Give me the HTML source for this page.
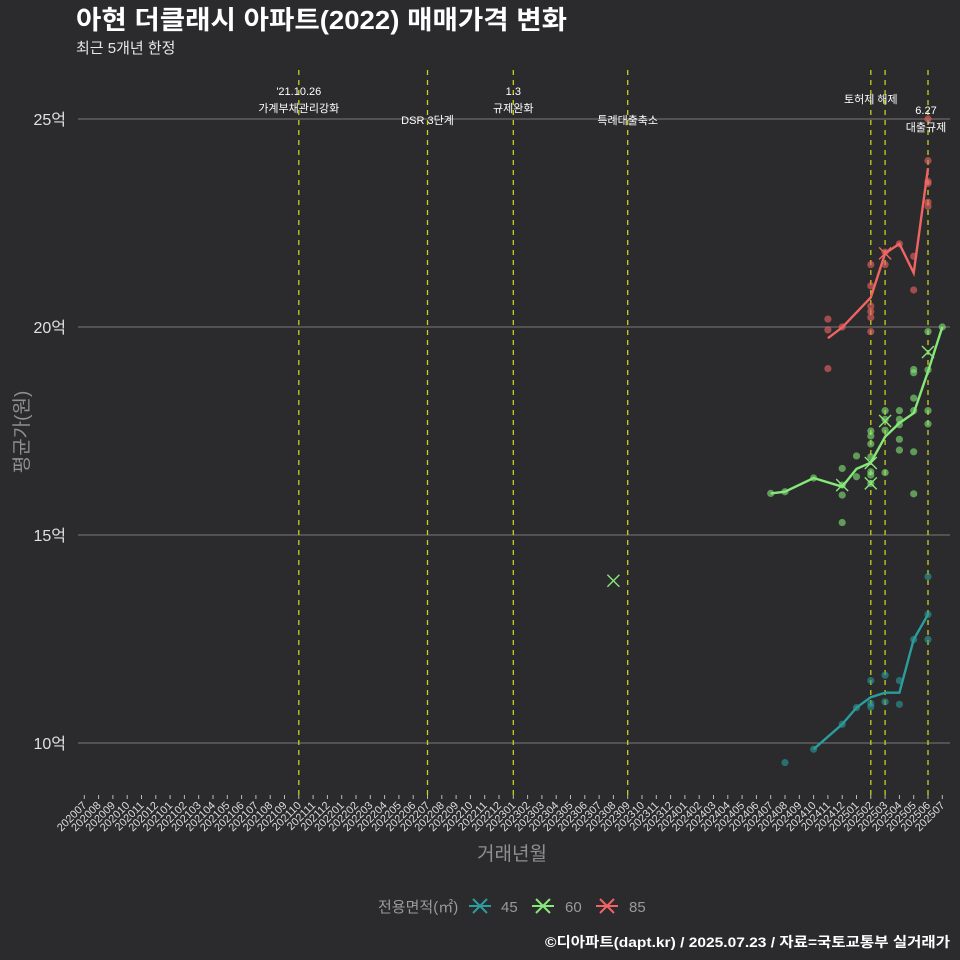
<!DOCTYPE html>
<html><head><meta charset="utf-8">
<style>
html,body{margin:0;padding:0;background:#2b2a2c;}
svg{display:block;font-family:"Liberation Sans","Noto Sans CJK KR",sans-serif;}
</style></head>
<body>
<svg id="chart" width="960" height="960" viewBox="0 0 960 960">
<rect width="960" height="960" fill="#2b2a2c"/>
<text x="76" y="29" fill="#ffffff" font-size="26" font-weight="bold" textLength="491" lengthAdjust="spacingAndGlyphs">아현 더클래시 아파트(2022) 매매가격 변화</text>
<text x="76" y="53" fill="#e8e8e8" font-size="15">최근 5개년 한정</text>
<g id="grid"></g><g id="vlines"></g><g id="series"></g><g id="xaxis"></g>
<text x="28" y="432" fill="#8f8f8f" font-size="19" transform="rotate(-90 28 432)" text-anchor="middle">평균가(원)</text>
<text x="512" y="860" fill="#8f8f8f" font-size="19" text-anchor="middle">거래년월</text>
<g>
<text x="378" y="912" fill="#9a9a9a" font-size="15">전용면적(㎡)</text>
<g><path d="M469 906h22M473 899l14 14M487 899l-14 14" stroke="#2a9d9d" stroke-width="2"/><text x="501" y="912" fill="#9a9a9a" font-size="15">45</text></g>
<g><path d="M532 906h22M536 899l14 14M550 899l-14 14" stroke="#86e87a" stroke-width="2"/><text x="565" y="912" fill="#9a9a9a" font-size="15">60</text></g>
<g><path d="M596 906h22M600 899l14 14M614 899l-14 14" stroke="#f06464" stroke-width="2"/><text x="629" y="912" fill="#9a9a9a" font-size="15">85</text></g>
</g>
<text x="545" y="947" fill="#ffffff" font-size="14" font-weight="bold" textLength="405" lengthAdjust="spacingAndGlyphs">©디아파트(dapt.kr) / 2025.07.23 / 자료=국토교통부 실거래가</text>
</svg>
<script>
const months = [];
for (let y=2020,m=7; !(y===2025&&m===8); m++){ if(m>12){m=1;y++;} if(y===2025&&m===8)break; months.push(String(y)+String(m).padStart(2,'0')); }
const yTicks = [10,15,20,25];
const yTickLabels = ['10억','15억','20억','25억'];
const policyMonths = ['202110','202207','202301','202309','202502','202503','202506'];
const policyLabels = [["'21.10.26","가계부채관리강화"],["","DSR 3단계"],["1.3","규제완화"],["","특례대출축소"],["","토허제 해제"],["",""],["6.27","대출규제"]];
const s45Months = ['202410','202412','202501','202502','202503','202504','202505','202506'];
const s45Line = [9.85,10.45,10.85,11.1,11.21,11.21,12.49,13.09];
const s60Months = ['202407','202408','202410','202412','202501','202502','202503','202504','202505','202506','202507'];
const s60Line = [16.0,16.04,16.37,16.16,16.59,16.74,17.36,17.69,17.93,18.93,20.0];
const s85Months = ['202411','202412','202502','202503','202504','202505','202506'];
const s85Line = [19.73,19.99,20.71,21.77,22.0,21.3,23.82];
const p45Months = ['202408','202410','202412','202501','202502','202502','202502','202503','202503','202504','202504','202505','202506','202506','202506'];
const p45Vals = [9.53,9.85,10.45,10.85,11.5,10.95,10.87,11.63,10.99,11.5,10.93,12.49,14.0,13.09,12.49];
const p60Months = ['202407','202408','202410','202412','202412','202412','202412','202501','202501','202502','202502','202502','202502','202502','202502','202502','202503','202503','202503','202503','202504','202504','202504','202504','202504','202505','202505','202505','202505','202505','202505','202506','202506','202506','202506','202507'];
const p60Vals = [16.0,16.04,16.37,16.6,16.2,15.96,15.3,16.9,16.4,17.5,17.38,17.19,16.88,16.52,16.44,16.24,17.99,17.78,17.52,16.5,17.99,17.78,17.65,17.3,17.04,18.98,18.9,18.29,17.99,17.0,15.99,19.89,18.97,17.99,17.67,20.0];
const p85Months = ['202411','202411','202411','202412','202502','202502','202502','202502','202502','202502','202503','202503','202504','202505','202505','202506','202506','202506','202506','202506','202506'];
const p85Vals = [20.19,19.93,19.0,20.0,21.5,20.99,20.5,20.37,20.23,19.89,21.5,21.8,22.0,21.7,20.89,25.0,24.0,23.5,23.45,23.0,22.9];
const xMarkMonths = ['202308','202412','202502','202502','202503','202506','202503'];
const xMarkVals = [13.9,16.2,16.73,16.24,17.74,19.4,21.77];
const xMarkSeries = ['60','60','60','60','60','60','85'];

const NS='http://www.w3.org/2000/svg';
const X0=84.3, DX=14.3;
function xPos(mm){return X0+DX*months.indexOf(mm);}
function yPos(v){return 743-(v-10)*41.6;}
function mk(tag,attrs,parent){const e=document.createElementNS(NS,tag);for(const k in attrs)e.setAttribute(k,attrs[k]);parent.appendChild(e);return e;}
const colors={'45':'#2a9d9d','60':'#86e87a','85':'#f06464'};
const grid=document.getElementById('grid');
yTicks.forEach((v,i)=>{
  const l=mk('line',{x1:78,x2:950,y1:yPos(v),y2:yPos(v),stroke:'#7a7a7a','stroke-width':1},grid);
  
  
  const t=mk('text',{x:66,y:yPos(v)+6,fill:'#e0e0e0','font-size':16,'text-anchor':'end'},grid);
  t.textContent=yTickLabels[i];
  
  
});
const vl=document.getElementById('vlines');
policyMonths.forEach((mm,i)=>{
  const x=xPos(mm);
  const l=mk('line',{x1:x,x2:x,y1:70,y2:800,stroke:'#c8d21a','stroke-width':1.3,'stroke-dasharray':'5 5'},vl);
  
  
  const lab=policyLabels[i];
  let dy = (mm==='202207'||mm==='202309')?124:(mm==='202502'?103:95);
  let ax = mm==='202502'?x+1:x;
  if(mm==='202506'){ax=x-2;dy=114;}
  const t1=mk('text',{x:ax,y:dy,fill:'#ffffff','font-size':11,'text-anchor':'middle'},vl);
  t1.textContent=lab[0];
  
  
  const t2=mk('text',{x:mm==='202502'?x:ax,y:(lab[0]===''?dy:dy+17),fill:'#ffffff','font-size':11,'text-anchor':'middle'},vl);
  t2.textContent=lab[1];
  
  
});
const xa=document.getElementById('xaxis');
months.forEach(mm=>{
  const x=xPos(mm);
  const tk=mk('line',{x1:x,x2:x,y1:795,y2:799,stroke:'#bbbbbb','stroke-width':1},xa);
  
  
  const t=mk('text',{x:x+3,y:806,fill:'#dddddd','font-size':11,'text-anchor':'end',transform:`rotate(-45 ${x+3} 806)`},xa);
  t.textContent=mm;
  
  
});
const sg=document.getElementById('series');
function pts(ms,vs,key){
  ms.forEach((mm,i)=>{
    const c=mk('circle',{cx:xPos(mm),cy:yPos(vs[i]),r:3.6,fill:colors[key],'fill-opacity':0.6},sg);
    
    
  });
}
function line(ms,vs,key){
  const d=ms.map((mm,i)=>(i?'L':'M')+xPos(mm).toFixed(1)+' '+yPos(vs[i]).toFixed(1)).join(' ');
  const p=mk('path',{d:d,fill:'none',stroke:colors[key],'stroke-width':2.4},sg);
  
  
}
pts(p45Months,p45Vals,'45');pts(p60Months,p60Vals,'60');pts(p85Months,p85Vals,'85');
line(s45Months,s45Line,'45');line(s60Months,s60Line,'60');line(s85Months,s85Line,'85');
xMarkMonths.forEach((mm,i)=>{
  const x=xPos(mm),y=yPos(xMarkVals[i]);
  const p=mk('path',{d:`M${x-6} ${y-6}L${x+6} ${y+6}M${x+6} ${y-6}L${x-6} ${y+6}`,stroke:colors[xMarkSeries[i]],'stroke-width':1.4},sg);
  
  
});
</script>
</body></html>
